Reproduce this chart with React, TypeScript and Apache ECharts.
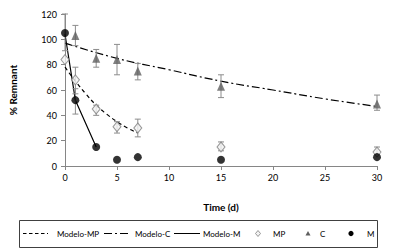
import React, { useEffect, useRef } from "react";
import * as echarts from "echarts";

const xTicks = [0, 5, 10, 15, 20, 25, 30];
const yTicks = [0, 20, 40, 60, 80, 100, 120];

// Observed data [time, value]
const mpX = [0, 1, 3, 5, 7, 15, 30];
const mpY = [84, 68, 45, 31, 30, 15, 11];
const mpLow = [84, 57, 40, 26, 23, 12, 9];
const mpHigh = [84, 78, 48, 35, 37, 19, 15];

const cX = [1, 3, 5, 7, 15, 30];
const cY = [103, 85, 84, 75, 63, 49];
const cLow = [95, 78, 72, 68, 54, 44];
const cHigh = [111, 92, 96, 81, 72, 56];

const mX = [0, 1, 3, 5, 7, 15, 30];
const mY = [105, 52, 15, 5, 7, 5, 7];
const mLow = [91, 41, 15, 5, 7, 5, 7];
const mHigh = [120, 61, 15, 5, 7, 5, 7];

// Model curves
const modelMPX = [0, 1, 2, 3, 4, 5, 6, 7];
const modelMPY = [78, 67, 57, 48, 41, 35, 30, 26];
const modelCX = [0, 5, 10, 15, 20, 25, 30];
const modelCY = [97, 85, 76, 67, 60, 53, 47];
const modelMX = [0, 1, 3];
const modelMY = [104, 52, 15];

const legendNames = ["Modelo-MP", "Modelo-C", "Modelo-M", "MP", "C", "M"];

const FONT = "Lato, 'Liberation Sans', sans-serif";

const pairs = (xs: number[], ys: number[]) => xs.map((x, i) => [x, ys[i]]);
const bars = (xs: number[], lo: number[], hi: number[]) =>
  xs.map((x, i) => [x, lo[i], hi[i]]).filter((d) => d[1] !== d[2]);

const errorSeries = (name: string, data: number[][]) => ({
  name,
  type: "custom",
  z: 3,
  silent: true,
  data,
  encode: { x: 0, y: [1, 2] },
  renderItem: (params: any, api: any) => {
    const x = api.value(0);
    const lo = api.coord([x, api.value(1)]);
    const hi = api.coord([x, api.value(2)]);
    const w = 3;
    const style = { stroke: "#8c8c8c", lineWidth: 1 };
    return {
      type: "group",
      children: [
        { type: "line", shape: { x1: lo[0], y1: lo[1], x2: hi[0], y2: hi[1] }, style },
        { type: "line", shape: { x1: lo[0] - w, y1: lo[1], x2: lo[0] + w, y2: lo[1] }, style },
        { type: "line", shape: { x1: hi[0] - w, y1: hi[1], x2: hi[0] + w, y2: hi[1] }, style },
      ],
    };
  },
});

const LY = 233.5;
const legendText = (name: string, x: number) => ({
  type: "text",
  x,
  y: LY,
  style: {
    text: name,
    fontSize: 8,
    fontFamily: FONT,
    fill: "#000",
    verticalAlign: "middle",
    align: "left",
  },
  silent: true,
});
const legendLine = (x1: number, x2: number, dash: number[] | null) => ({
  type: "line",
  shape: { x1, y1: LY, x2, y2: LY },
  style: { stroke: "#000", lineWidth: 1, lineDash: dash || undefined },
  silent: true,
});

export default function App() {
  const ref = useRef<HTMLDivElement>(null);
  useEffect(() => {
    if (!ref.current) return;
    const chart = echarts.init(ref.current, null, { renderer: "svg" });
    chart.setOption({
      animation: false,
      textStyle: { fontFamily: FONT },
      grid: { left: 59, right: 16, top: 14, bottom: 86 },
      xAxis: {
        type: "value",
        min: xTicks[0],
        max: xTicks[xTicks.length - 1],
        interval: 5,
        name: "Time (d)",
        nameLocation: "middle",
        nameGap: 36,
        nameTextStyle: { fontFamily: FONT, fontSize: 10, fontWeight: "bold", color: "#000" },
        axisLine: { lineStyle: { color: "#868686" } },
        axisTick: { lineStyle: { color: "#868686" }, length: 4 },
        axisLabel: { color: "#000", fontSize: 9, fontFamily: FONT, margin: 7 },
        splitLine: { show: false },
      },
      yAxis: {
        type: "value",
        min: yTicks[0],
        max: yTicks[yTicks.length - 1],
        interval: 20,
        name: "% Remnant",
        nameLocation: "middle",
        nameGap: 47,
        nameRotate: 90,
        nameTextStyle: { fontFamily: FONT, fontSize: 10, fontWeight: "bold", color: "#000" },
        axisLine: { show: true, lineStyle: { color: "#868686" } },
        axisTick: { show: true, lineStyle: { color: "#868686" }, length: 4 },
        axisLabel: { color: "#000", fontSize: 9, fontFamily: FONT, margin: 8 },
        splitLine: { show: false },
      },
      legend: { show: false },
      graphic: [
        {
          type: "rect",
          shape: { x: 19.5, y: 220.5, width: 358, height: 27 },
          style: { fill: "#fff", stroke: "#404040", lineWidth: 1 },
          silent: true,
        },
        legendLine(23, 48, [3.5, 2.5]),
        legendText(legendNames[0], 57),
        legendLine(104, 130, [8, 3, 2, 3]),
        legendText(legendNames[1], 135),
        legendLine(174, 200, null),
        legendText(legendNames[2], 203),
        {
          type: "polygon",
          shape: { points: [[258, LY - 3], [260.5, LY], [258, LY + 3], [255.5, LY]] },
          style: { fill: "#f2f2f2", stroke: "#7f7f7f", lineWidth: 0.8 },
          silent: true,
        },
        legendText(legendNames[3], 273),
        {
          type: "polygon",
          shape: { points: [[308, LY - 2.5], [310.5, LY + 2], [305.5, LY + 2]] },
          style: { fill: "#5f5f5f" },
          silent: true,
        },
        legendText(legendNames[4], 320),
        {
          type: "circle",
          shape: { cx: 351, cy: LY, r: 2.6 },
          style: { fill: "#000" },
          silent: true,
        },
        legendText(legendNames[5], 367),
      ],
      series: [
        {
          name: "Modelo-MP",
          type: "line",
          data: pairs(modelMPX, modelMPY),
          smooth: true,
          symbol: "none",
          z: 2,
          lineStyle: { color: "#000", width: 1.2, type: [4, 3] },
        },
        {
          name: "Modelo-C",
          type: "line",
          data: pairs(modelCX, modelCY),
          smooth: true,
          symbol: "none",
          z: 2,
          lineStyle: { color: "#000", width: 1.2, type: [8, 3, 2, 3] },
        },
        {
          name: "Modelo-M",
          type: "line",
          data: pairs(modelMX, modelMY),
          symbol: "none",
          z: 2,
          lineStyle: { color: "#000", width: 1.2 },
        },
        errorSeries("errMP", bars(mpX, mpLow, mpHigh)),
        errorSeries("errC", bars(cX, cLow, cHigh)),
        errorSeries("errM", bars(mX, mLow, mHigh)),
        {
          name: "MP",
          type: "scatter",
          data: pairs(mpX, mpY),
          symbol: "diamond",
          symbolSize: [8, 10],
          z: 5,
          itemStyle: { color: "#f2f2f2", borderColor: "#7f7f7f", borderWidth: 1 },
        },
        {
          name: "C",
          type: "scatter",
          data: pairs(cX, cY),
          symbol: "triangle",
          symbolSize: [8, 9],
          z: 5,
          itemStyle: { color: "#5f5f5f" },
        },
        {
          name: "M",
          type: "scatter",
          data: pairs(mX, mY),
          symbol: "circle",
          symbolSize: 8,
          z: 6,
          itemStyle: { color: "#000" },
        },
      ],
    });
    return () => chart.dispose();
  }, []);
  return <div ref={ref} style={{ width: 393, height: 252, position: "absolute", left: 0, top: 0 }} />;
}
